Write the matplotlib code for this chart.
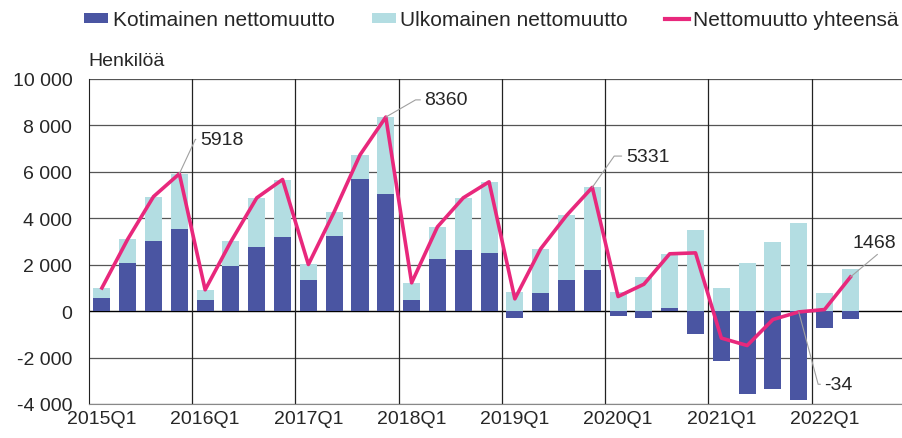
import matplotlib
matplotlib.use("Agg")
import matplotlib.pyplot as plt
import numpy as np
from matplotlib import font_manager

quarters = [f"{y}Q{q}" for y in range(2015, 2023) for q in range(1, 5)][:30]
domestic = [570, 2095, 3040, 3545, 490, 1940, 2780, 3215,
            1335, 3255, 5710, 5065, 460, 2240, 2655, 2510,
            -300, 790, 1335, 1765, -200, -290, 130, -990,
            -2165, -3560, -3345, -3824, -720, -360]
foreign = [430, 1005, 1895, 2373, 430, 1060, 2100, 2455,
           675, 1020, 1020, 3295, 760, 1390, 2225, 3060,
           830, 1895, 2785, 3566, 830, 1450, 2340, 3500,
           1005, 2080, 2985, 3790, 790, 1828]
total = [1000, 3100, 4935, 5918, 920, 3000, 4880, 5670,
         2010, 4275, 6730, 8360, 1220, 3630, 4880, 5570,
         530, 2685, 4120, 5331, 630, 1160, 2470, 2510,
         -1160, -1480, -360, -34, 70, 1468]
labelled = {3: "5918", 11: "8360", 19: "5331", 27: "-34", 29: "1468"}
yticks = [-4000, -2000, 0, 2000, 4000, 6000, 8000, 10000]
ytick_labels = ["-4 000", "-2 000", "0", "2 000", "4 000", "6 000", "8 000", "10 000"]

names = {f.name for f in font_manager.fontManager.ttflist}
base = "Liberation Sans" if "Liberation Sans" in names else "DejaVu Sans"
plt.rcParams["font.family"] = [base, "DejaVu Sans"]
TXT = "#262626"
FS = 14

DARK = "#4A55A2"
LIGHT = "#B3DDE2"
LINE = "#E8287C"

fig = plt.figure(figsize=(9.02, 4.39), dpi=100)
ax = fig.add_axes([89/902, 1-405/439, 1-89/902, (405-80)/439])

x = np.arange(len(quarters))
d = np.array(domestic)
f = np.array(foreign)
f_bottom = np.where(d > 0, d, 0)
b1 = ax.bar(x, d, width=0.66, color=DARK, zorder=3, label="Kotimainen nettomuutto")
b2 = ax.bar(x, f, bottom=f_bottom, width=0.66, color=LIGHT, zorder=3, label="Ulkomainen nettomuutto")
l1, = ax.plot(x, total, color=LINE, lw=2.6, zorder=4, label="Nettomuutto yhteensä")

ax.set_ylim(-4000, 10000)
ax.set_xlim(-0.5, 31.0)
ax.set_yticks(yticks)
ax.set_yticklabels(ytick_labels, fontsize=FS, color=TXT)
ax.set_xticks(x[::4])
ax.set_xticklabels(quarters[::4], fontsize=FS, color=TXT)
ax.tick_params(axis="y", length=0, pad=12)
ax.tick_params(axis="x", length=0, pad=4)

for yv in yticks:
    ax.axhline(yv, color="#000000" if yv == 0 else "#555555", lw=1.0 if yv == 0 else 0.9, zorder=2)
for xv in np.arange(3.5, 31, 4):
    ax.axvline(xv, color="#222222", lw=0.9, zorder=2)
for s in ["top", "right"]:
    ax.spines[s].set_visible(False)
ax.spines["left"].set_color("#222222")
ax.spines["bottom"].set_color("#888888")
ax.spines["left"].set_zorder(2)

fig.text(88/902, 1-62/439, "Henkilöä", fontsize=FS, va="center", ha="left", color=TXT)

ann_pos = {3: (3.8, 7400, 65), 11: (12.5, 9100, 30), 19: (20.3, 6680, 55),
           27: (28.0, -3150, 105), 29: (29.1, 2970, 40)}
for i, txt in labelled.items():
    tx, ty, ang = ann_pos[i]
    ax.annotate(txt, xy=(i, total[i]), xytext=(tx, ty), fontsize=FS, color=TXT,
                va="center", ha="left", zorder=6,
                arrowprops=dict(arrowstyle="-", color="#A0A0A0", lw=0.8,
                                shrinkA=1, shrinkB=0, relpos=(0, 0.5),
                                connectionstyle=f"angle,angleA=180,angleB={ang},rad=0"))

leg = fig.legend([b1, b2, l1], ["Kotimainen nettomuutto", "Ulkomainen nettomuutto", "Nettomuutto yhteensä"],
                 loc="center", bbox_to_anchor=(0.545, 1-21/439), ncol=3, frameon=False,
                 prop={"size": 15}, handlelength=1.15, handleheight=0.42,
                 handletextpad=0.2, columnspacing=1.8)
for t in leg.get_texts():
    t.set_color(TXT)
leg.legend_handles[2].set_linewidth(3)

fig.savefig("out.png", dpi=100)
